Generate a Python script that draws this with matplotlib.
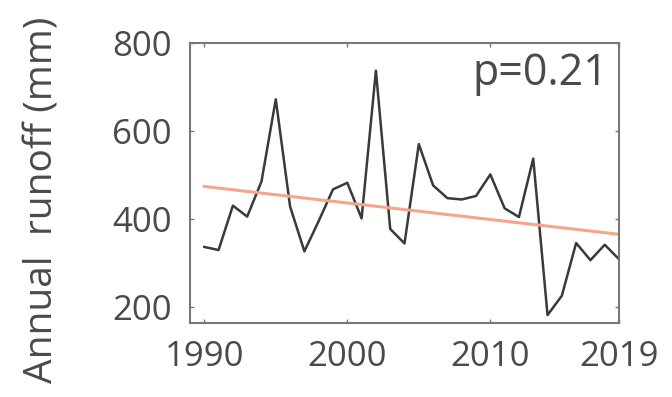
import numpy as np
import matplotlib
matplotlib.use('Agg')
from matplotlib import pyplot as plt

# annual runoff, 1990-2019
years = np.arange(1990, 2020)
runoff = [336, 329, 430, 405, 485, 672, 428, 326, 395, 467,
          482, 401, 737, 377, 344, 570, 476, 447, 444, 452,
          501, 424, 404, 537, 181, 225, 345, 306, 341, 308]
xtick_years = [1990, 2000, 2010, 2019]
ytick_vals = [200, 400, 600, 800]
p_text = 'p=0.21'

plt.rcParams['font.family'] = ['Open Sans', 'DejaVu Sans']
txt_col = '#4a4a4a'

fig = plt.figure(figsize=(6.72, 3.97), dpi=100)
ax = fig.add_axes([0.2827, 0.1864, 0.6385, 0.7053])

ax.plot(years, runoff, color='#3a3a3a', lw=1.8)

# linear trend
k, b = np.polyfit(years, runoff, 1)
ax.plot(years, k * years + b, color='#f4a58a', lw=2.2)

ax.set_xlim(1989, 2019)
ax.set_ylim(163, 800)
ax.set_xticks(xtick_years)
ax.set_xticklabels([str(y) for y in xtick_years])
ax.set_yticks(ytick_vals)

ax.tick_params(direction='in', length=3, width=1, color='#777777',
               top=True, right=True, labelsize=25, labelcolor=txt_col, pad=13)
ax.tick_params(axis='x', pad=12)
for s in ax.spines.values():
    s.set_color('#777777')
    s.set_linewidth(1.5)

ax.set_ylabel('Annual  runoff (mm)', fontsize=28, color=txt_col)
ax.yaxis.set_label_coords(-0.3, 0.44)

ax.text(0.975, 0.97, p_text, transform=ax.transAxes, ha='right', va='top',
        fontsize=31, color=txt_col)

plt.savefig('out.png', dpi=100)
